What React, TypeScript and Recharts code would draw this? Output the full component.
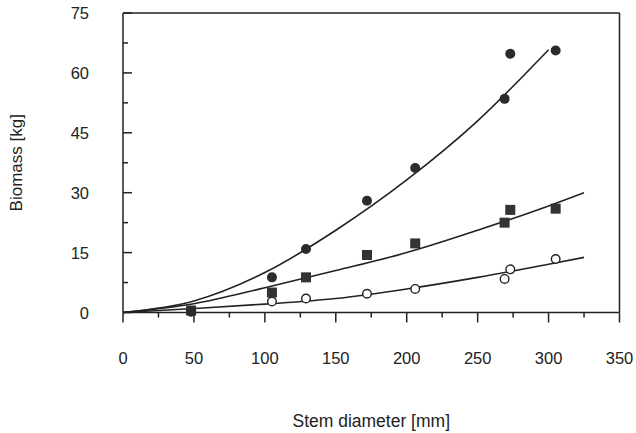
import {
  ComposedChart,
  Label,
  Line,
  ReferenceLine,
  Scatter,
  XAxis,
  YAxis,
} from "recharts";

// stem diameters of the sampled trees [mm]
const diameters = [48, 105, 129, 172, 206, 269, 273, 305];

// measured biomass [kg]
const totalBiomass = [0.3, 8.8, 15.9, 28.0, 36.2, 53.5, 64.8, 65.6];
const stemBiomass = [0.5, 5.0, 8.8, 14.4, 17.3, 22.5, 25.7, 26.0];
const crownBiomass = [0.2, 2.75, 3.5, 4.7, 5.9, 8.4, 10.8, 13.4];

// fitted curves
const totalFitX = [0, 50, 100, 150, 200, 250, 300];
const totalFitY = [0, 2.9, 10.0, 20.6, 33.2, 48.0, 65.8];
const partFitX = [0, 50, 100, 150, 200, 250, 300, 325];
const stemFitY = [0, 2.2, 6.2, 10.5, 15.0, 20.6, 26.7, 30.0];
const crownFitY = [0, 1.0, 2.1, 3.5, 5.9, 8.8, 12.1, 13.8];

const xTicks = [0, 25, 50, 75, 100, 125, 150, 175, 200, 225, 250, 275, 300, 325, 350];
const yTicks = [0, 7.5, 15, 22.5, 30, 37.5, 45, 52.5, 60, 67.5, 75];

const INK = "#222";
const FONT = "'Liberation Sans', Arial, sans-serif";

const toPoints = (xs: number[], ys: number[]) =>
  xs.map((x, i) => ({ x, y: ys[i] }));

const totalPts = toPoints(diameters, totalBiomass);
const stemPts = toPoints(diameters, stemBiomass);
const crownPts = toPoints(diameters, crownBiomass);
const totalFit = toPoints(totalFitX, totalFitY);
const stemFit = toPoints(partFitX, stemFitY);
const crownFit = toPoints(partFitX, crownFitY);

function XTick({ x, y, payload }: any) {
  const major = payload.value % 50 === 0;
  return (
    <g>
      <line x1={x} x2={x} y1={y} y2={y + (major ? 10 : 5)} stroke={INK} strokeWidth={1.5} />
      {major && (
        <text x={x} y={y + 51.5} textAnchor="middle" fontSize={16.5} fontFamily={FONT} fill={INK}>
          {payload.value}
        </text>
      )}
    </g>
  );
}

function YTick({ x, y, payload }: any) {
  const major = payload.value % 15 === 0;
  return (
    <g>
      <line x1={x} x2={x + (major ? 9 : 5)} y1={y} y2={y} stroke={INK} strokeWidth={1.5} />
      {major && (
        <text x={x - 34} y={y + 6} textAnchor="end" fontSize={16.5} fontFamily={FONT} fill={INK}>
          {payload.value}
        </text>
      )}
    </g>
  );
}

const dot = (props: any) => <circle cx={props.cx} cy={props.cy} r={5} fill="#2b2b2b" />;
const square = (props: any) => (
  <rect x={props.cx - 5} y={props.cy - 5} width={10} height={10} fill="#333" />
);
const ring = (props: any) => (
  <circle cx={props.cx} cy={props.cy} r={4.3} fill="#fff" stroke={INK} strokeWidth={1.4} />
);

export default function App() {
  return (
    <div style={{ position: "absolute", left: 0, top: 0, background: "#fff" }}>
      <ComposedChart
        width={636}
        height={433}
        margin={{ top: 13, right: 16.5, bottom: 0, left: 0 }}
      >
        <XAxis
          dataKey="x"
          type="number"
          domain={[0, 350]}
          ticks={xTicks}
          interval={0}
          height={120.5}
          tickSize={0}
          tickMargin={0}
          tickLine={false}
          tick={<XTick />}
          axisLine={{ stroke: INK, strokeWidth: 1.5 }}
        >
          <Label
            value="Stem diameter [mm]"
            position="insideBottom"
            offset={6}
            style={{ fontSize: 17.5, fontFamily: FONT, fill: INK }}
          />
        </XAxis>
        <YAxis
          type="number"
          domain={[0, 75]}
          ticks={yTicks}
          interval={0}
          width={123}
          tickSize={0}
          tickMargin={0}
          tickLine={false}
          tick={<YTick />}
          axisLine={{ stroke: INK, strokeWidth: 1.5 }}
        >
          <Label
            value="Biomass [kg]"
            angle={-90}
            position="insideLeft"
            offset={16}
            style={{ fontSize: 17, fontFamily: FONT, fill: INK, textAnchor: "middle" }}
          />
        </YAxis>
        <ReferenceLine y={75} stroke={INK} strokeWidth={1.5} />
        <ReferenceLine x={350} stroke={INK} strokeWidth={1.5} />

        <Line data={totalFit} dataKey="y" type="monotone" stroke={INK} strokeWidth={1.6} dot={false} isAnimationActive={false} />
        <Line data={stemFit} dataKey="y" type="monotone" stroke={INK} strokeWidth={1.6} dot={false} isAnimationActive={false} />
        <Line data={crownFit} dataKey="y" type="monotone" stroke={INK} strokeWidth={1.6} dot={false} isAnimationActive={false} />

        <Scatter data={crownPts} dataKey="y" shape={ring} isAnimationActive={false} />
        <Scatter data={stemPts} dataKey="y" shape={square} isAnimationActive={false} />
        <Scatter data={totalPts} dataKey="y" shape={dot} isAnimationActive={false} />
      </ComposedChart>
    </div>
  );
}
